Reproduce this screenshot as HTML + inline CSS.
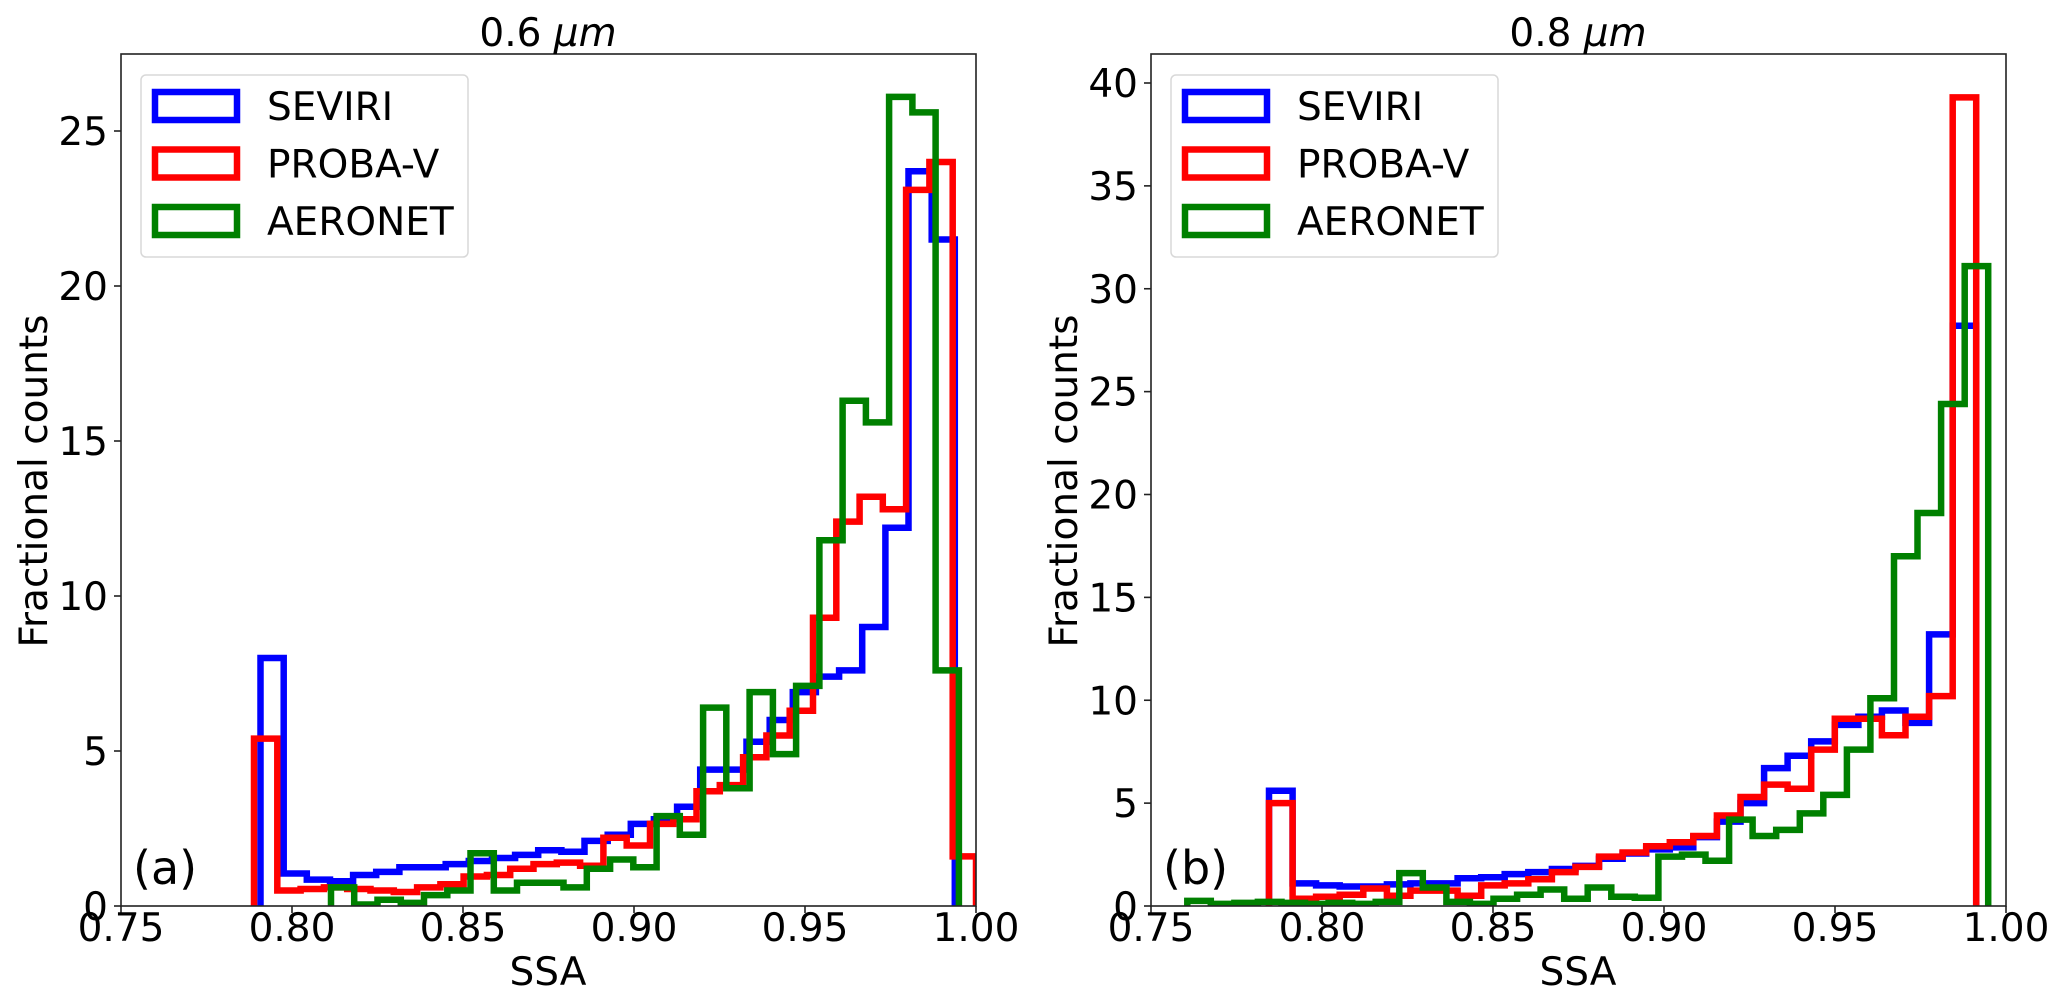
<!DOCTYPE html>
<html><head><meta charset="utf-8">
<style>
html,body{margin:0;padding:0;background:#fff;}
svg{display:block;font-family:"DejaVu Sans","Liberation Sans",sans-serif;}
</style></head>
<body>
<svg id="fig" width="2067" height="1007" viewBox="0 0 2067 1007" xmlns="http://www.w3.org/2000/svg">
<rect width="2067" height="1007" fill="#fff"/>
</svg>
<script>
// Panel (a) 0.6 um
const seviriA = [8.0,1.05,0.85,0.8,1.0,1.1,1.25,1.25,1.35,1.45,1.55,1.65,1.8,1.75,2.1,2.3,2.65,2.8,3.2,4.4,4.4,5.3,6.0,6.9,7.4,7.6,9.0,12.2,23.7,21.5];
const probaA = [5.4,0.5,0.55,0.6,0.55,0.5,0.45,0.6,0.7,0.95,1.0,1.2,1.35,1.4,1.3,2.2,1.95,2.65,2.8,3.7,3.9,4.8,5.5,6.3,9.3,12.4,13.2,12.8,23.1,24.0,1.6];
const aeronetA = [0.6,0.05,0.2,0.1,0.35,0.5,1.7,0.5,0.75,0.75,0.6,1.2,1.5,1.25,2.9,2.3,6.4,3.8,6.9,4.9,7.1,11.8,16.3,15.6,26.1,25.6,7.6];
const rangeSeviriA = [0.7908,0.9938];
const rangeProbaA = [0.7889,1.0];
const rangeAeronetA = [0.8114,0.995];
// Panel (b) 0.8 um
const seviriB = [5.6,1.1,1.0,0.95,0.95,1.05,1.1,1.1,1.35,1.4,1.55,1.65,1.8,1.95,2.3,2.55,2.75,2.85,3.35,4.1,5.0,6.7,7.3,8.0,8.8,9.2,9.5,8.9,13.2,28.2];
const probaB = [5.0,0.35,0.45,0.55,0.85,0.5,0.75,0.75,0.5,1.0,1.1,1.3,1.65,1.9,2.4,2.6,2.9,3.1,3.4,4.4,5.3,5.9,5.7,7.6,9.1,9.1,8.3,9.2,10.2,39.3];
const aeronetB = [0.25,0.1,0.15,0.2,0.15,0.1,0.15,0.1,0.2,1.6,0.9,0.2,0.1,0.35,0.55,0.8,0.35,0.9,0.45,0.4,2.4,2.5,2.2,4.2,3.4,3.7,4.5,5.4,7.6,10.1,17.0,19.1,24.4,31.1];
const rangeSeviriB = [0.7845,0.9913];
const rangeProbaB = [0.7845,0.9913];
const rangeAeronetB = [0.7606,0.9948];
const xTicks = [0.75,0.80,0.85,0.90,0.95,1.00];
const xTickLabels = ["0.75","0.80","0.85","0.90","0.95","1.00"];
const yTicksA = [0,5,10,15,20,25];
const yTicksB = [0,5,10,15,20,25,30,35,40];
const seriesNames = ["SEVIRI","PROBA-V","AERONET"];
const seriesColors = ["#0000ff","#ff0000","#008000"];

const NS = "http://www.w3.org/2000/svg";
const fig = document.getElementById('fig');
function mk(tag, attrs, parent){
  const e = document.createElementNS(NS, tag);
  for (const k in attrs) e.setAttribute(k, attrs[k]);
  (parent||fig).appendChild(e);
  return e;
}
const FS = 39;
const LW = 6.5;
function panel(id, left, ymax, pxPerUnit, yTicks, series, title, tag){
  const right = left + 855, top = 54, bottom = 906;
  const xs = v => left + (v - 0.75) / 0.25 * 855;
  const ys = v => bottom - v * pxPerUnit;
  const g = mk('g', {});
  
  
  const cp = mk('clipPath', {id: 'clip-' + id}, g);
  mk('rect', {x: left, y: top, width: 855, height: bottom - top}, cp);
  const sg = mk('g', {'clip-path': 'url(#clip-' + id + ')'}, g);
  series.forEach((s, i) => {
    const vals = s.vals, r = s.range, n = vals.length, w = (r[1] - r[0]) / n;
    let d = 'M' + xs(r[0]).toFixed(1) + ',' + ys(0).toFixed(1);
    for (let k = 0; k < n; k++) {
      const x0 = xs(r[0] + k * w), x1 = xs(r[0] + (k + 1) * w), y = ys(vals[k]);
      d += ' L' + x0.toFixed(1) + ',' + y.toFixed(1) + ' L' + x1.toFixed(1) + ',' + y.toFixed(1);
    }
    d += ' L' + xs(r[1]).toFixed(1) + ',' + ys(0).toFixed(1);
    const p = mk('path', {d: d, fill: 'none', stroke: seriesColors[i], 'stroke-width': LW, 'stroke-linejoin': 'miter'}, sg);
    
    
  });
  const frame = mk('rect', {x: left, y: top, width: 855, height: bottom - top, fill: 'none', stroke: '#222', 'stroke-width': 1.6}, g);
  
  
  xTicks.forEach((t, i) => {
    const x = xs(t);
    mk('line', {x1: x, y1: bottom, x2: x, y2: bottom + 7, stroke: '#222', 'stroke-width': 1.6}, g);
    const tx = mk('text', {x: x, y: 941, 'font-size': FS, 'text-anchor': 'middle', fill: '#000'}, g);
    tx.textContent = xTickLabels[i];
    
    
  });
  yTicks.forEach(t => {
    const y = ys(t);
    mk('line', {x1: left - 7, y1: y, x2: left, y2: y, stroke: '#222', 'stroke-width': 1.6}, g);
    const tx = mk('text', {x: left - 13, y: y + 14, 'font-size': FS, 'text-anchor': 'end', fill: '#000'}, g);
    tx.textContent = String(t);
    
    
  });
  const xl = mk('text', {x: left + 427, y: 985, 'font-size': FS, 'text-anchor': 'middle'}, g);
  xl.textContent = 'SSA';
  
  
  const yl = mk('text', {x: 0, y: 0, 'font-size': FS, 'text-anchor': 'middle', transform: 'translate(' + (left - 74) + ',481) rotate(-90)'}, g);
  yl.textContent = 'Fractional counts';
  
  
  const tt = mk('text', {x: left + 427, y: 46, 'font-size': FS, 'text-anchor': 'middle'}, g);
  tt.innerHTML = title + '<tspan font-style="italic">μm</tspan>';
  
  
  const pl = mk('text', {x: left + 12, y: 884, 'font-size': 46}, g);
  pl.textContent = tag;
  
  
  const lg = mk('g', {}, g);
  
  
  mk('rect', {x: left + 20, y: 75, width: 327, height: 182, rx: 5, fill: '#fff', 'fill-opacity': 0.8, stroke: '#d8d8d8', 'stroke-width': 1.5}, lg);
  seriesNames.forEach((nm, i) => {
    const cy = 106 + i * 57.5;
    const e = mk('g', {}, lg);
    
    
    mk('rect', {x: left + 34, y: cy - 14, width: 82, height: 28, fill: 'none', stroke: seriesColors[i], 'stroke-width': LW}, e);
    const t = mk('text', {x: left + 146, y: cy + 14, 'font-size': FS}, e);
    t.textContent = nm;
  });
}
panel('a', 121, 27.5, 31.0, yTicksA, [
  {vals: seviriA, range: rangeSeviriA},
  {vals: probaA, range: rangeProbaA},
  {vals: aeronetA, range: rangeAeronetA}], '0.6 ', '(a)');
panel('b', 1151, 41.4, 20.575, yTicksB, [
  {vals: seviriB, range: rangeSeviriB},
  {vals: probaB, range: rangeProbaB},
  {vals: aeronetB, range: rangeAeronetB}], '0.8 ', '(b)');
</script>
</body></html>
